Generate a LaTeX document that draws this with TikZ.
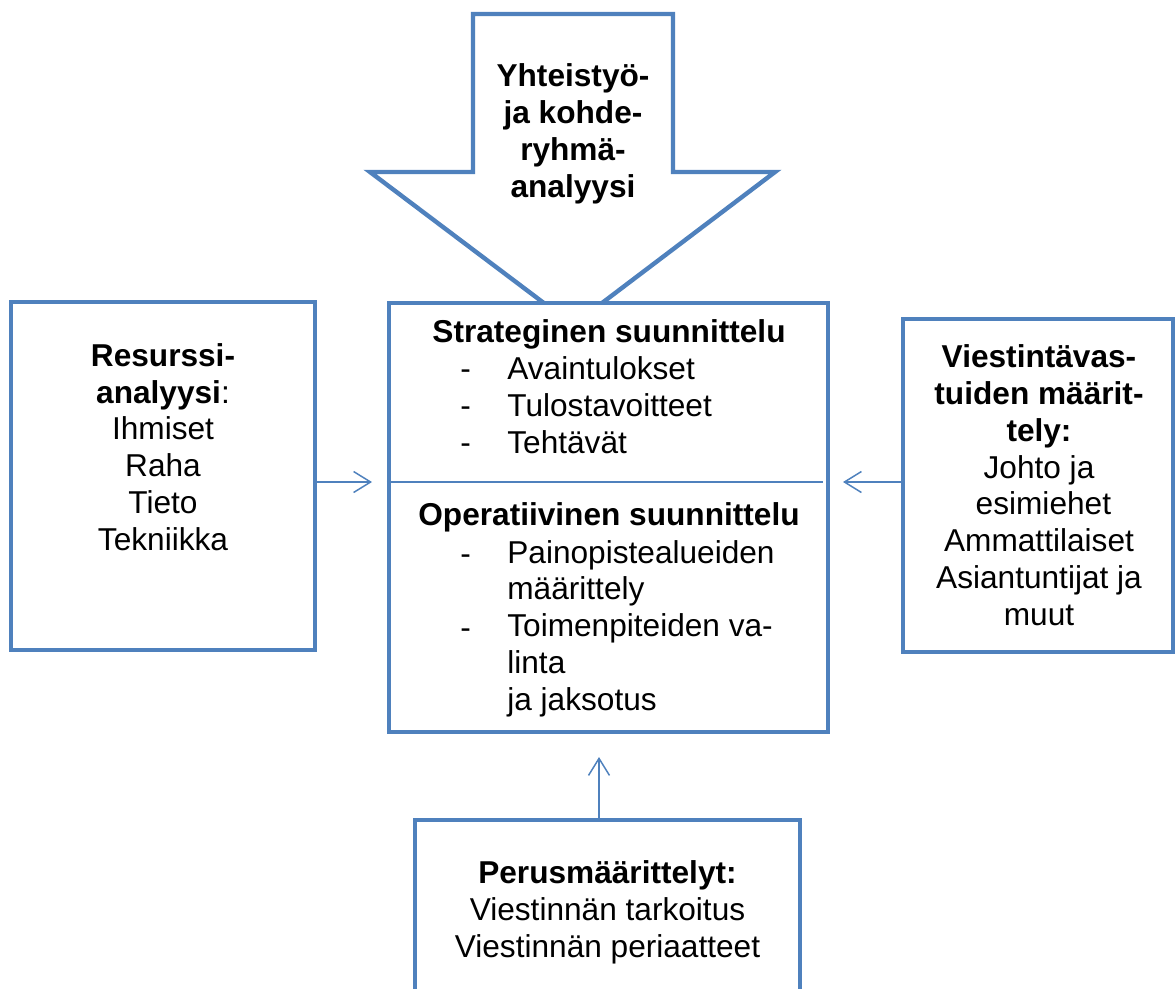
\documentclass[tikz,border=0pt]{standalone}
\usepackage{fontspec}
\setmainfont{Liberation Sans}
\usetikzlibrary{arrows.meta}
\definecolor{boxblue}{RGB}{79,129,189}
\newcommand{\diagfont}{\fontsize{18pt}{20.9pt}\selectfont}

\begin{document}
\begin{tikzpicture}[x=0.02cm, y=-0.02cm, line join=miter, font=\diagfont,
    box/.style={draw=boxblue, line width=2.5pt, fill=white, inner sep=0pt},
    txt/.style={anchor=base, align=center, inner sep=0pt},
    head/.style={txt, font=\diagfont\bfseries},
    arr/.style={draw=boxblue, line width=0.85pt, -{Straight Barb[length=0.34cm, width=0.42cm]}}]
			\useasboundingbox (0,0) rectangle (1176,988);
			
			% block arrow on top (base = last line)
			\draw[boxblue, line width=2.5pt, fill=white] (473,14) -- (673,14) -- (673,172) -- (775,172) -- (573,325) -- (370,172) -- (473,172) -- cycle;
			\node[head] (coop) at (573,197) {Yhteistyö-\\ja kohde-\\ryhmä-\\analyysi};
			
			% boxes
			\node[box, minimum width=6.08cm, minimum height=6.96cm] (res) at (163,476) {};
			\node[box, minimum width=8.78cm, minimum height=8.58cm] (plan) at (608.5,517.5) {};
			\node[box, minimum width=5.4cm, minimum height=6.66cm] (viest) at (1038,485.5) {};
			\node[box, minimum width=7.7cm, minimum height=3.6cm] (perus) at (607.5,910) {};
			
			\draw[boxblue, line width=0.85pt] (plan.west |- 0,482) -- (823,482);
			
			% texts
			\node[txt] (rest) at (163,550) {\textbf{Resurssi-}\\\textbf{analyysi}:\\Ihmiset\\Raha\\Tieto\\Tekniikka};
			\node[txt] (viestt) at (1039,625) {\textbf{Viestintävas-}\\\textbf{tuiden määrit-}\\\textbf{tely:}\\Johto ja\\\ esimiehet\\Ammattilaiset\\Asiantuntijat ja\\muut};
			\node[txt] (perust) at (607.5,957) {\textbf{Perusmäärittelyt:}\\Viestinnän tarkoitus\\Viestinnän periaatteet};
			
			\node[head] (strat) at (609,342) {Strateginen suunnittelu};
			\node[txt, anchor=base west, align=left] (stratdash) at (460,453) {-\\-\\-};
			\node[txt, anchor=base west, align=left] (stratlist) at (507,453) {Avaintulokset\\Tulostavoitteet\\Tehtävät};
			\node[head] (oper) at (609,525) {Operatiivinen suunnittelu};
			\node[txt, anchor=base west, align=left] (operdash) at (460,638) {-\\[20.9pt]-};
			\node[txt, anchor=base west, align=left] (operlist) at (507,710) {Painopistealueiden\\määrittely\\Toimenpiteiden va-\\linta\\ja jaksotus};
			
			% connectors
			\coordinate (lefttip) at (372,482);
			\coordinate (righttip) at (843,482);
			\coordinate (uptip) at (599,757);
			\draw[arr] (res.east |- lefttip) -- (lefttip);
			\draw[arr] (viest.west |- righttip) -- (righttip);
			\draw[arr] (perus.north -| uptip) -- (uptip);
		\end{tikzpicture}
\end{document}
